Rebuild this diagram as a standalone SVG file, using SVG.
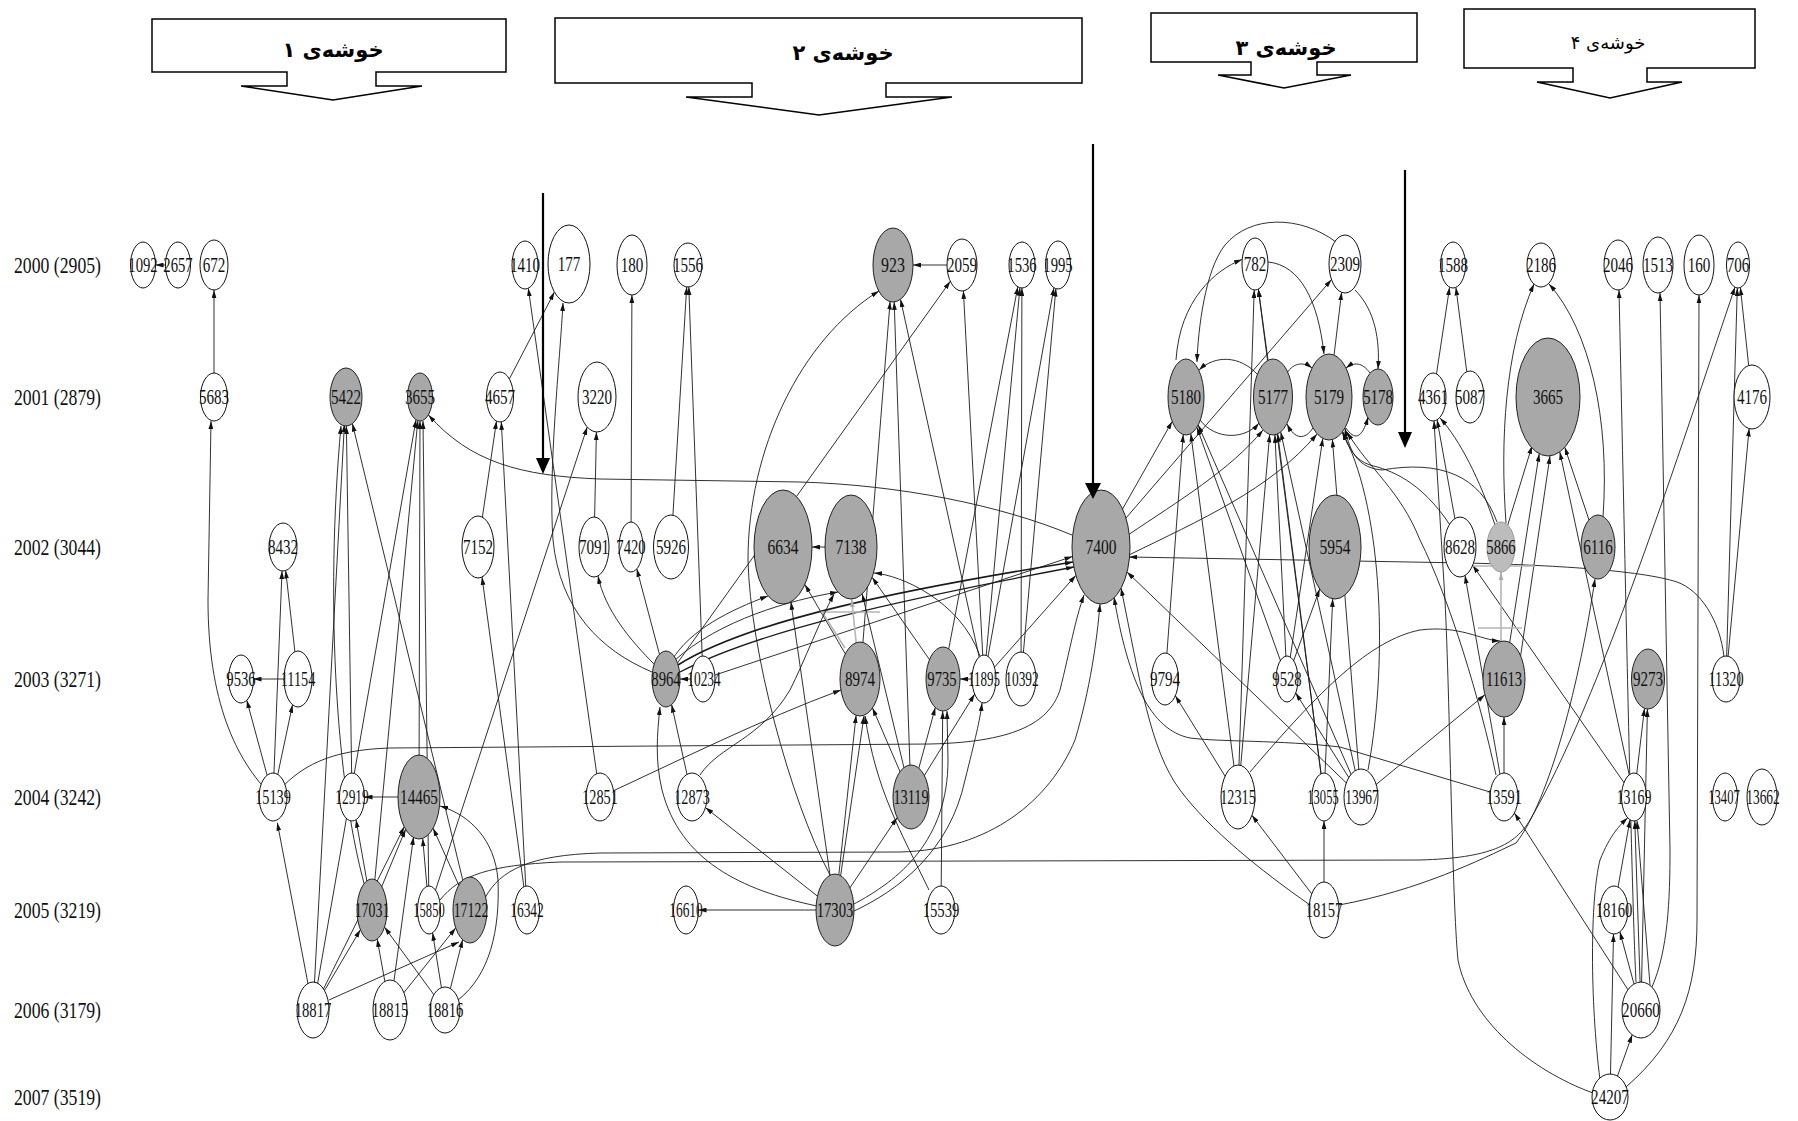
<svg xmlns="http://www.w3.org/2000/svg" width="1798" height="1121" viewBox="0 0 1798 1121">
<style>
.w{fill:#fff;stroke:#111;stroke-width:1}
.g{fill:#a8a8a8;stroke:#222;stroke-width:1}
.lg{fill:#bcbcbc;stroke:#999;stroke-width:1}
.t{font-family:"Liberation Serif",serif;font-size:21px;text-anchor:middle;fill:#111}
.yr{font-family:"Liberation Serif",serif;font-size:23px;fill:#111}
.hd{font-family:"DejaVu Sans",sans-serif;text-anchor:middle;fill:#000}
.box{fill:#fff;stroke:#000;stroke-width:1.5}
.gr{stroke:#b5b5b5;stroke-width:1.6}
</style>
<defs>
<marker id="a" viewBox="0 0 10 6" refX="10" refY="3" markerWidth="8" markerHeight="5" markerUnits="userSpaceOnUse" orient="auto"><path d="M0,0 L10,3 L0,6 z" fill="#111"/></marker>
<marker id="ag" viewBox="0 0 10 6" refX="10" refY="3" markerWidth="8" markerHeight="5" markerUnits="userSpaceOnUse" orient="auto"><path d="M0,0 L10,3 L0,6 z" fill="#aaa"/></marker>
</defs>
<rect width="1798" height="1121" fill="#fff"/>

<g id="headers">
<g id="cluster1"><polygon class="box" points="152,19 506,19 506,72 376,72 376,86 422,86 333,100 241,86 287,86 287,72 152,72"/><text class="hd" x="333" y="57" font-size="21" font-weight="bold">خوشه‌ی ۱</text></g>
<g id="cluster2"><polygon class="box" points="555,18 1082,18 1082,83 886,83 886,97 952,97 819,115 686,97 752,97 752,83 555,83"/><text class="hd" x="843" y="60" font-size="21" font-weight="bold">خوشه‌ی ۲</text></g>
<g id="cluster3"><polygon class="box" points="1151,13 1417,13 1417,62 1317,62 1317,75 1351,75 1284,88 1218,75 1251,75 1251,62 1151,62"/><text class="hd" x="1286" y="55" font-size="21" font-weight="bold">خوشه‌ی ۳</text></g>
<g id="cluster4"><polygon class="box" points="1464,9 1755,9 1755,68 1647,68 1647,82 1682,82 1610,98 1537,82 1573,82 1573,68 1464,68"/><text class="hd" x="1608" y="49" font-size="18">خوشه‌ی ۴</text></g>
</g>

<g id="years">
<text class="yr" x="14" y="273" textLength="87" lengthAdjust="spacingAndGlyphs">2000 (2905)</text>
<text class="yr" x="14" y="405" textLength="87" lengthAdjust="spacingAndGlyphs">2001 (2879)</text>
<text class="yr" x="14" y="555" textLength="87" lengthAdjust="spacingAndGlyphs">2002 (3044)</text>
<text class="yr" x="14" y="687" textLength="87" lengthAdjust="spacingAndGlyphs">2003 (3271)</text>
<text class="yr" x="14" y="805" textLength="87" lengthAdjust="spacingAndGlyphs">2004 (3242)</text>
<text class="yr" x="14" y="918" textLength="87" lengthAdjust="spacingAndGlyphs">2005 (3219)</text>
<text class="yr" x="14" y="1018" textLength="87" lengthAdjust="spacingAndGlyphs">2006 (3179)</text>
<text class="yr" x="14" y="1105" textLength="87" lengthAdjust="spacingAndGlyphs">2007 (3519)</text>
</g>

<g id="connectors" fill="none" stroke="#1a1a1a" stroke-width="0.9" marker-end="url(#a)">
<path d="M178,265 L155.5,265"/>
<path d="M214,397 L214,290"/>
<path d="M273,797 C235,760 208,700 208,600 L211,421"/>
<path d="M273,797 L246.8,700.3"/>
<path d="M273,797 L282,571"/>
<path d="M273,797 L292.5,704.8"/>
<path d="M298,679 L253.5,679"/>
<path d="M298,679 L285.7,570.6"/>
<path d="M273,797 C300,765 330,750 390,748 L930,744 C1020,742 1050,720 1060,690 C1070,650 1075,620 1084,595"/>
<path d="M313,1010 L277.3,822.7"/>
<path d="M352,797 L346.4,426"/>
<path d="M372,910 C335,800 325,600 341,426"/>
<path d="M419,797 L364.5,797"/>
<path d="M372,910 L356,819.7"/>
<path d="M372,910 L405.6,829.3"/>
<path d="M429,910 L422.7,838.4"/>
<path d="M470,910 L433.1,828.2"/>
<path d="M313,1010 L404.2,826.8"/>
<path d="M390,1010 L377.2,939"/>
<path d="M313,1010 L360.4,929.7"/>
<path d="M445,1010 L384.5,927.1"/>
<path d="M445,1010 L462.6,939.7"/>
<path d="M390,1010 L455.7,927.9"/>
<path d="M329,1000 Q400,968 459,942"/>
<path d="M445,1010 L432.6,932.8"/>
<path d="M390,1010 L413.5,837"/>
<path d="M458,1000 C490,975 500,930 498,880 C495,840 470,815 440,806"/>
<path d="M500,397 L554.4,292.1"/>
<path d="M478,547 L496.5,421.1"/>
<path d="M527,910 L501.3,421.9"/>
<path d="M527,910 L482,577"/>
<path d="M600,797 L528.3,288.2"/>
<path d="M652,672 C600,650 560,610 553,540 C548,470 560,360 563,303"/>
<path d="M594,547 L596.4,432"/>
<path d="M429,910 L587.2,427"/>
<path d="M470,910 L352.4,423.6"/>
<path d="M313,1010 L416,419.8"/>
<path d="M419,797 L420,421"/>
<path d="M372,910 L417.8,420.6"/>
<path d="M429,910 L423,421"/>
<path d="M1072,535 C1000,505 900,485 800,482 L600,479 C520,476 470,462 428.5,415"/>
<path d="M313,1010 L344.4,424.3"/>
<path d="M600,797 C680,760 760,720 841,690"/>
<path d="M631,547 L631.9,295"/>
<path d="M671,547 L686.7,286.9"/>
<path d="M703,679 L688.8,287"/>
<path d="M666,679 L636.8,568.9"/>
<path d="M655,665 C630,640 605,610 598,576"/>
<path d="M703,679 L680,679"/>
<path d="M692,797 L671.6,704.6"/>
<path d="M817,906 C740,890 680,860 662,790 C655,760 657,735 660,707"/>
<path d="M672,660 C690,630 730,610 768,596"/>
<path d="M675,660 C720,620 790,600 838,592"/>
<path d="M678,665 C750,620 900,590 1073,562" stroke-width="1.7"/>
<path d="M680,672 C760,630 900,600 1074,567" stroke-width="1.3"/>
<path d="M703,679 L1072.4,556.5"/>
<path d="M830,875 C790,800 750,650 748,560 C748,450 800,340 879,291"/>
<path d="M666,679 L950.3,281.3"/>
<path d="M851,547 L812,547"/>
<path d="M962,265 L913,265"/>
<path d="M911,797 L894.2,301.9"/>
<path d="M860,679 L890.1,301.6"/>
<path d="M984,679 L900.5,299.3"/>
<path d="M984,679 L960,679"/>
<path d="M911,797 L935.3,707.5"/>
<path d="M941,910 L942.7,711"/>
<path d="M852,905 C900,880 948,840 948,760 L947,711"/>
<path d="M852,912 C900,890 950,850 965,780 C975,740 980,720 982,703"/>
<path d="M943,679 L872.1,577.3"/>
<path d="M860,679 L804.9,584.5"/>
<path class="gr" d="M860,679 L851.6,599" marker-end="url(#ag)"/>
<path class="gr" d="M845,648 L822,612 L880,612" marker-end="none"/>
<path d="M911,797 L872.5,707.9"/>
<path d="M911,797 L974.7,694.1"/>
<path d="M911,797 L862.2,593.9"/>
<path d="M835,910 L698.5,910"/>
<path d="M835,910 L705.4,807.6"/>
<path d="M835,910 L856.1,715.3"/>
<path d="M840,880 L864,716"/>
<path d="M835,910 L897.2,817.5"/>
<path d="M835,910 L790.9,601.8"/>
<path d="M929,890 C900,830 876,790 865,716"/>
<path d="M700,775 C720,745 760,740 790,690 C805,660 820,620 834,594"/>
<path d="M984,679 L963.4,290.9"/>
<path d="M984,679 L1019.9,287.7"/>
<path d="M984,679 L1053.9,287.7"/>
<path d="M1021,679 L1021.9,288"/>
<path d="M1021,679 L1055.9,288.6"/>
<path d="M943,679 L1017.8,286.8"/>
<path d="M980,656 C960,600 900,575 874,573"/>
<path d="M984,679 L1075.8,575.4"/>
<path d="M1490,792 L1340,747 C1280,740 1220,742 1190,738 C1150,730 1128,680 1114,597"/>
<path d="M1310,905 C1260,870 1210,830 1180,790 C1150,750 1140,680 1121,588"/>
<path d="M1361,797 L1127,572"/>
<path d="M1101,547 L1172.2,421.4"/>
<path d="M1128,535 C1180,500 1230,470 1263,430"/>
<path d="M1129,555 C1200,520 1270,490 1317,434"/>
<path d="M1101,547 L1331.5,279.6"/>
<path d="M1724,657 C1720,620 1700,590 1677,582 C1640,570 1550,565 1466,563 L1129,557"/>
<path d="M1258,375 C1240,355 1215,355 1199,370"/>
<path d="M1200,420 C1215,440 1245,440 1259,423"/>
<path d="M1287,373 C1294,362 1304,362 1312,368"/>
<path d="M1313,428 C1305,440 1295,440 1287,424"/>
<path d="M1370,373 C1362,362 1354,362 1346,368"/>
<path d="M1346,428 C1354,440 1362,440 1368,417"/>
<path d="M1329,397 L1341.6,292.3"/>
<path d="M1355,290 C1375,310 1380,340 1378,369"/>
<path d="M1336,242 C1300,215 1250,215 1225,245 C1205,270 1198,330 1197,362"/>
<path d="M1268,262 C1300,265 1318,300 1324,354"/>
<path d="M1273,397 L1258.4,289.1"/>
<path d="M1238,797 L1254.2,290"/>
<path d="M1324,797 L1258.3,289.2"/>
<path d="M1176,360 C1180,300 1215,270 1242,259.5"/>
<path d="M1165,679 L1183.2,434.5"/>
<path d="M1238,797 L1190.8,433.6"/>
<path d="M1361,797 L1198.2,424.9"/>
<path d="M1238,797 L1175.3,695.7"/>
<path d="M1238,797 L1269.7,434.5"/>
<path d="M1287,679 L1274.9,434.8"/>
<path d="M1287,679 L1322.8,438.4"/>
<path d="M1287,679 L1196.9,427.3"/>
<path d="M1287,679 L1319.7,589"/>
<path d="M1324,797 L1332.7,598.8"/>
<path d="M1361,797 L1295.7,692.9"/>
<path d="M1361,797 L1280.7,431.9"/>
<path d="M1361,797 L1332.4,439.5"/>
<path d="M1368,770 C1390,650 1380,500 1342,432"/>
<path d="M1324,797 L1277.7,433.9"/>
<path d="M1361,797 L1484.9,694.8"/>
<path d="M1324,910 L1251.9,815.3"/>
<path d="M1324,910 L1324,821"/>
<path d="M1339,905 C1420,890 1480,860 1516,843 C1550,800 1580,680 1595,579"/>
<path d="M440,900 C460,875 490,865 560,862 L1420,860 C1490,858 1515,845 1530,820 C1600,700 1680,450 1735,287"/>
<path d="M485,898 C500,870 530,855 600,853 L900,852 C990,850 1050,800 1075,740 C1090,690 1097,640 1100,604"/>
<path d="M1433,397 L1449.6,287.2"/>
<path d="M1470,397 L1455.9,287.4"/>
<path d="M1460,547 L1437.1,419.8"/>
<path d="M1495,525 C1480,480 1460,440 1440,418"/>
<path d="M1593,1093 C1530,1070 1470,1020 1458,960 C1452,900 1450,700 1445,600 L1434,421"/>
<path d="M1501,547 L1532,445.9"/>
<path d="M1598,547 L1564.8,447.3"/>
<path d="M1504,679 L1539.2,453.7"/>
<path d="M1520,660 L1550,456"/>
<path d="M1634,797 L1559.8,451.9"/>
<path d="M1506,523 C1500,440 1505,350 1534,284"/>
<path d="M1603,517 C1610,420 1590,330 1549,284"/>
<path d="M1504,797 L1504,717"/>
<path d="M1504,797 L1465,575.5"/>
<path d="M1634,797 L1472.7,565.3"/>
<path class="gr" d="M1501,679 L1501,572" marker-end="url(#ag)"/>
<path class="gr" d="M1466,566 L1535,566" marker-end="none"/>
<path class="gr" d="M1478,628 L1522,628" marker-end="none"/>
<path d="M1250,772 C1320,690 1370,640 1420,630 C1460,625 1480,640 1500,641"/>
<path d="M1497,522 C1480,475 1440,460 1382,470 C1360,468 1350,455 1345,428"/>
<path d="M1450,525 C1420,480 1390,470 1370,465 C1355,460 1348,448 1343,432"/>
<path d="M1496,775 C1480,700 1450,600 1420,540 C1400,490 1370,470 1347,432"/>
<path d="M1634,797 L1644.5,708.3"/>
<path d="M1641,1010 L1647.4,709"/>
<path d="M1614,910 L1630,819.7"/>
<path d="M1641,1010 L1634.8,821"/>
<path d="M1650,985 L1637,821"/>
<path d="M1600,1080 C1590,1000 1590,900 1600,860 C1610,835 1620,825 1627.7,817.8"/>
<path d="M1610,1097 L1613.5,934"/>
<path d="M1641,1010 L1619.9,931.8"/>
<path d="M1610,1097 L1632.2,1034.8"/>
<path d="M1641,1010 L1514.4,813.1"/>
<path d="M1626,1087 C1680,1040 1697,990 1697,920 L1699,295"/>
<path d="M1652,987 C1668,950 1670,900 1670,850 L1660,293"/>
<path d="M1636,982 C1632,900 1628,700 1619,290"/>
<path d="M1726,679 L1749.1,428.6"/>
<path d="M1752,397 L1740.4,287.5"/>
<path d="M1726,679 L1737.3,288"/>
</g>

<g id="nodes">
<g id="n1092"><ellipse class="w" cx="143" cy="265" rx="12.5" ry="23"/><text class="t" transform="translate(143,272) scale(0.7,1)">1092</text></g>
<g id="n2657"><ellipse class="w" cx="178" cy="265" rx="12.5" ry="23"/><text class="t" transform="translate(178,272) scale(0.7,1)">2657</text></g>
<g id="n672"><ellipse class="w" cx="214" cy="265" rx="14" ry="25"/><text class="t" transform="translate(214,272) scale(0.72,1)">672</text></g>
<g id="n1410"><ellipse class="w" cx="525" cy="265" rx="13" ry="24"/><text class="t" transform="translate(525,272) scale(0.72,1)">1410</text></g>
<g id="n177"><ellipse class="w" cx="569" cy="264" rx="21" ry="39"/><text class="t" transform="translate(569,271) scale(0.72,1)">177</text></g>
<g id="n180"><ellipse class="w" cx="632" cy="265" rx="15" ry="30"/><text class="t" transform="translate(632,272) scale(0.72,1)">180</text></g>
<g id="n1556"><ellipse class="w" cx="688" cy="265" rx="14" ry="22"/><text class="t" transform="translate(688,272) scale(0.72,1)">1556</text></g>
<g id="n923"><ellipse class="g" cx="893" cy="265" rx="20" ry="37"/><text class="t" transform="translate(893,272) scale(0.76,1)">923</text></g>
<g id="n2059"><ellipse class="w" cx="962" cy="265" rx="15" ry="26"/><text class="t" transform="translate(962,272) scale(0.72,1)">2059</text></g>
<g id="n1536"><ellipse class="w" cx="1022" cy="265" rx="13" ry="23"/><text class="t" transform="translate(1022,272) scale(0.7,1)">1536</text></g>
<g id="n1995"><ellipse class="w" cx="1058" cy="265" rx="12.5" ry="24"/><text class="t" transform="translate(1058,272) scale(0.7,1)">1995</text></g>
<g id="n782"><ellipse class="w" cx="1255" cy="264" rx="13" ry="26"/><text class="t" transform="translate(1255,271) scale(0.72,1)">782</text></g>
<g id="n2309"><ellipse class="w" cx="1345" cy="264" rx="16" ry="29"/><text class="t" transform="translate(1345,271) scale(0.72,1)">2309</text></g>
<g id="n1588"><ellipse class="w" cx="1453" cy="265" rx="12.5" ry="23"/><text class="t" transform="translate(1453,272) scale(0.72,1)">1588</text></g>
<g id="n2186"><ellipse class="w" cx="1541" cy="265" rx="14" ry="22"/><text class="t" transform="translate(1541,272) scale(0.72,1)">2186</text></g>
<g id="n2046"><ellipse class="w" cx="1618" cy="265" rx="14" ry="25"/><text class="t" transform="translate(1618,272) scale(0.72,1)">2046</text></g>
<g id="n1513"><ellipse class="w" cx="1658" cy="265" rx="15" ry="28"/><text class="t" transform="translate(1658,272) scale(0.72,1)">1513</text></g>
<g id="n160"><ellipse class="w" cx="1699" cy="265" rx="15" ry="30"/><text class="t" transform="translate(1699,272) scale(0.72,1)">160</text></g>
<g id="n706"><ellipse class="w" cx="1738" cy="265" rx="11.5" ry="23"/><text class="t" transform="translate(1738,272) scale(0.72,1)">706</text></g>

<g id="n5683"><ellipse class="w" cx="214" cy="397" rx="13.5" ry="24"/><text class="t" transform="translate(214,404) scale(0.72,1)">5683</text></g>
<g id="n5422"><ellipse class="g" cx="346" cy="397" rx="16" ry="29"/><text class="t" transform="translate(346,404) scale(0.72,1)">5422</text></g>
<g id="n3655"><ellipse class="g" cx="420" cy="397" rx="12.5" ry="24"/><text class="t" transform="translate(420,404) scale(0.72,1)">3655</text></g>
<g id="n4657"><ellipse class="w" cx="500" cy="397" rx="13.5" ry="25"/><text class="t" transform="translate(500,404) scale(0.72,1)">4657</text></g>
<g id="n3220"><ellipse class="w" cx="597" cy="397" rx="19" ry="35"/><text class="t" transform="translate(597,404) scale(0.72,1)">3220</text></g>
<g id="n5180"><ellipse class="g" cx="1186" cy="397" rx="18" ry="38"/><text class="t" transform="translate(1186,404) scale(0.72,1)">5180</text></g>
<g id="n5177"><ellipse class="g" cx="1273" cy="397" rx="19.5" ry="38"/><text class="t" transform="translate(1273,404) scale(0.72,1)">5177</text></g>
<g id="n5179"><ellipse class="g" cx="1329" cy="397" rx="23" ry="43"/><text class="t" transform="translate(1329,404) scale(0.72,1)">5179</text></g>
<g id="n5178"><ellipse class="g" cx="1378" cy="397" rx="15" ry="28"/><text class="t" transform="translate(1378,404) scale(0.72,1)">5178</text></g>
<g id="n4361"><ellipse class="w" cx="1433" cy="397" rx="13" ry="24"/><text class="t" transform="translate(1433,404) scale(0.72,1)">4361</text></g>
<g id="n5087"><ellipse class="w" cx="1470" cy="397" rx="14" ry="26"/><text class="t" transform="translate(1470,404) scale(0.72,1)">5087</text></g>
<g id="n3665"><ellipse class="g" cx="1548" cy="397" rx="32" ry="59"/><text class="t" transform="translate(1548,404) scale(0.72,1)">3665</text></g>
<g id="n4176"><ellipse class="w" cx="1752" cy="397" rx="18" ry="32"/><text class="t" transform="translate(1752,404) scale(0.72,1)">4176</text></g>

<g id="n8432"><ellipse class="w" cx="283" cy="547" rx="14" ry="24"/><text class="t" transform="translate(283,554) scale(0.72,1)">8432</text></g>
<g id="n7152"><ellipse class="w" cx="478" cy="547" rx="16" ry="31"/><text class="t" transform="translate(478,554) scale(0.72,1)">7152</text></g>
<g id="n7091"><ellipse class="w" cx="594" cy="547" rx="15" ry="30"/><text class="t" transform="translate(594,554) scale(0.72,1)">7091</text></g>
<g id="n7420"><ellipse class="w" cx="631" cy="547" rx="12" ry="25"/><text class="t" transform="translate(631,554) scale(0.7,1)">7420</text></g>
<g id="n5926"><ellipse class="w" cx="671" cy="547" rx="17.5" ry="32"/><text class="t" transform="translate(671,554) scale(0.72,1)">5926</text></g>
<g id="n6634"><ellipse class="g" cx="783" cy="547" rx="29" ry="57"/><text class="t" transform="translate(783,554) scale(0.74,1)">6634</text></g>
<g id="n7138"><ellipse class="g" cx="851" cy="547" rx="26" ry="52"/><text class="t" transform="translate(851,554) scale(0.74,1)">7138</text></g>
<g id="n7400"><ellipse class="g" cx="1101" cy="547" rx="29" ry="57"/><text class="t" transform="translate(1101,554) scale(0.74,1)">7400</text></g>
<g id="n5954"><ellipse class="g" cx="1335" cy="547" rx="26" ry="52"/><text class="t" transform="translate(1335,554) scale(0.74,1)">5954</text></g>
<g id="n8628"><ellipse class="w" cx="1460" cy="547" rx="16" ry="30"/><text class="t" transform="translate(1460,554) scale(0.72,1)">8628</text></g>
<g id="n5866"><ellipse class="lg" cx="1501" cy="547" rx="14" ry="25"/><text class="t" transform="translate(1501,554) scale(0.7,1)">5866</text></g>
<g id="n6116"><ellipse class="g" cx="1598" cy="547" rx="17" ry="32"/><text class="t" transform="translate(1598,554) scale(0.72,1)">6116</text></g>

<g id="n9536"><ellipse class="w" cx="241" cy="679" rx="12.5" ry="24"/><text class="t" transform="translate(241,686) scale(0.7,1)">9536</text></g>
<g id="n11154"><ellipse class="w" cx="298" cy="679" rx="14" ry="28"/><text class="t" transform="translate(298,686) scale(0.68,1)">11154</text></g>
<g id="n8964"><ellipse class="g" cx="666" cy="679" rx="14" ry="28"/><text class="t" transform="translate(666,686) scale(0.7,1)">8964</text></g>
<g id="n10234"><ellipse class="w" cx="703" cy="679" rx="12" ry="23"/><text class="t" transform="translate(704,686) scale(0.64,1)">10234</text></g>
<g id="n8974"><ellipse class="g" cx="860" cy="679" rx="20" ry="37"/><text class="t" transform="translate(860,686) scale(0.72,1)">8974</text></g>
<g id="n9735"><ellipse class="g" cx="943" cy="679" rx="17" ry="32"/><text class="t" transform="translate(942,686) scale(0.7,1)">9735</text></g>
<g id="n11895"><ellipse class="w" cx="984" cy="679" rx="12" ry="24"/><text class="t" transform="translate(984,686) scale(0.62,1)">11895</text></g>
<g id="n10392"><ellipse class="w" cx="1021" cy="679" rx="15" ry="27"/><text class="t" transform="translate(1022,686) scale(0.64,1)">10392</text></g>
<g id="n9794"><ellipse class="w" cx="1165" cy="679" rx="13.5" ry="26"/><text class="t" transform="translate(1165,686) scale(0.72,1)">9794</text></g>
<g id="n9528"><ellipse class="w" cx="1287" cy="679" rx="11" ry="23"/><text class="t" transform="translate(1287,686) scale(0.7,1)">9528</text></g>
<g id="n11613"><ellipse class="g" cx="1504" cy="679" rx="21" ry="38"/><text class="t" transform="translate(1504,686) scale(0.7,1)">11613</text></g>
<g id="n9273"><ellipse class="g" cx="1648" cy="679" rx="16.5" ry="30"/><text class="t" transform="translate(1648,686) scale(0.72,1)">9273</text></g>
<g id="n11320"><ellipse class="w" cx="1726" cy="679" rx="14" ry="23"/><text class="t" transform="translate(1726,686) scale(0.68,1)">11320</text></g>

<g id="n15139"><ellipse class="w" cx="273" cy="797" rx="14" ry="24"/><text class="t" transform="translate(273,804) scale(0.68,1)">15139</text></g>
<g id="n12919"><ellipse class="w" cx="352" cy="797" rx="12.5" ry="24"/><text class="t" transform="translate(352,804) scale(0.64,1)">12919</text></g>
<g id="n14465"><ellipse class="g" cx="419" cy="797" rx="21" ry="42"/><text class="t" transform="translate(419,804) scale(0.72,1)">14465</text></g>
<g id="n12851"><ellipse class="w" cx="600" cy="797" rx="14" ry="24"/><text class="t" transform="translate(600,804) scale(0.68,1)">12851</text></g>
<g id="n12873"><ellipse class="w" cx="692" cy="797" rx="15" ry="24"/><text class="t" transform="translate(692,804) scale(0.68,1)">12873</text></g>
<g id="n13119"><ellipse class="g" cx="911" cy="797" rx="18" ry="32"/><text class="t" transform="translate(911,804) scale(0.68,1)">13119</text></g>
<g id="n12315"><ellipse class="w" cx="1238" cy="797" rx="17" ry="32"/><text class="t" transform="translate(1238,804) scale(0.68,1)">12315</text></g>
<g id="n13055"><ellipse class="w" cx="1324" cy="797" rx="12" ry="24"/><text class="t" transform="translate(1323,804) scale(0.6,1)">13055</text></g>
<g id="n13967"><ellipse class="w" cx="1361" cy="797" rx="17" ry="28"/><text class="t" transform="translate(1362,804) scale(0.64,1)">13967</text></g>
<g id="n13591"><ellipse class="w" cx="1504" cy="797" rx="14" ry="24"/><text class="t" transform="translate(1504,804) scale(0.68,1)">13591</text></g>
<g id="n13169"><ellipse class="w" cx="1634" cy="797" rx="12.5" ry="24"/><text class="t" transform="translate(1634,804) scale(0.66,1)">13169</text></g>
<g id="n13407"><ellipse class="w" cx="1725" cy="797" rx="12.5" ry="24"/><text class="t" transform="translate(1724,804) scale(0.6,1)">13407</text></g>
<g id="n13662"><ellipse class="w" cx="1762" cy="797" rx="15" ry="28"/><text class="t" transform="translate(1763,804) scale(0.64,1)">13662</text></g>

<g id="n17031"><ellipse class="g" cx="372" cy="910" rx="15" ry="31"/><text class="t" transform="translate(372,917) scale(0.66,1)">17031</text></g>
<g id="n15850"><ellipse class="w" cx="429" cy="910" rx="11.5" ry="24"/><text class="t" transform="translate(429,917) scale(0.6,1)">15850</text></g>
<g id="n17122"><ellipse class="g" cx="470" cy="910" rx="17" ry="33"/><text class="t" transform="translate(471,917) scale(0.66,1)">17122</text></g>
<g id="n16342"><ellipse class="w" cx="527" cy="910" rx="12.5" ry="24"/><text class="t" transform="translate(527,917) scale(0.64,1)">16342</text></g>
<g id="n16610"><ellipse class="w" cx="686" cy="910" rx="12.5" ry="24"/><text class="t" transform="translate(686,917) scale(0.64,1)">16610</text></g>
<g id="n17303"><ellipse class="g" cx="835" cy="910" rx="19" ry="36"/><text class="t" transform="translate(835,917) scale(0.7,1)">17303</text></g>
<g id="n15539"><ellipse class="w" cx="941" cy="910" rx="14" ry="24"/><text class="t" transform="translate(941,917) scale(0.7,1)">15539</text></g>
<g id="n18157"><ellipse class="w" cx="1324" cy="910" rx="15" ry="28"/><text class="t" transform="translate(1324,917) scale(0.7,1)">18157</text></g>
<g id="n18160"><ellipse class="w" cx="1614" cy="910" rx="14" ry="24"/><text class="t" transform="translate(1614,917) scale(0.7,1)">18160</text></g>

<g id="n18817"><ellipse class="w" cx="313" cy="1010" rx="16" ry="28"/><text class="t" transform="translate(313,1017) scale(0.7,1)">18817</text></g>
<g id="n18815"><ellipse class="w" cx="390" cy="1010" rx="17" ry="30"/><text class="t" transform="translate(390,1017) scale(0.7,1)">18815</text></g>
<g id="n18816"><ellipse class="w" cx="445" cy="1010" rx="15" ry="23"/><text class="t" transform="translate(445,1017) scale(0.7,1)">18816</text></g>
<g id="n20660"><ellipse class="w" cx="1641" cy="1010" rx="19" ry="28"/><text class="t" transform="translate(1641,1017) scale(0.72,1)">20660</text></g>
<g id="n24207"><ellipse class="w" cx="1610" cy="1097" rx="18" ry="23"/><text class="t" transform="translate(1610,1104) scale(0.72,1)">24207</text></g>
</g>

<g id="cluster-arrows" stroke="#000" stroke-width="2.2" fill="#000">
<line x1="543" y1="193" x2="543" y2="460"/><polygon points="536,458 550,458 543,474" stroke="none"/>
<line x1="1093" y1="144" x2="1093" y2="485"/><polygon points="1085,483 1101,483 1093,499" stroke="none"/>
<line x1="1405" y1="170" x2="1405" y2="434"/><polygon points="1398,432 1412,432 1405,448" stroke="none"/>
</g>
</svg>
